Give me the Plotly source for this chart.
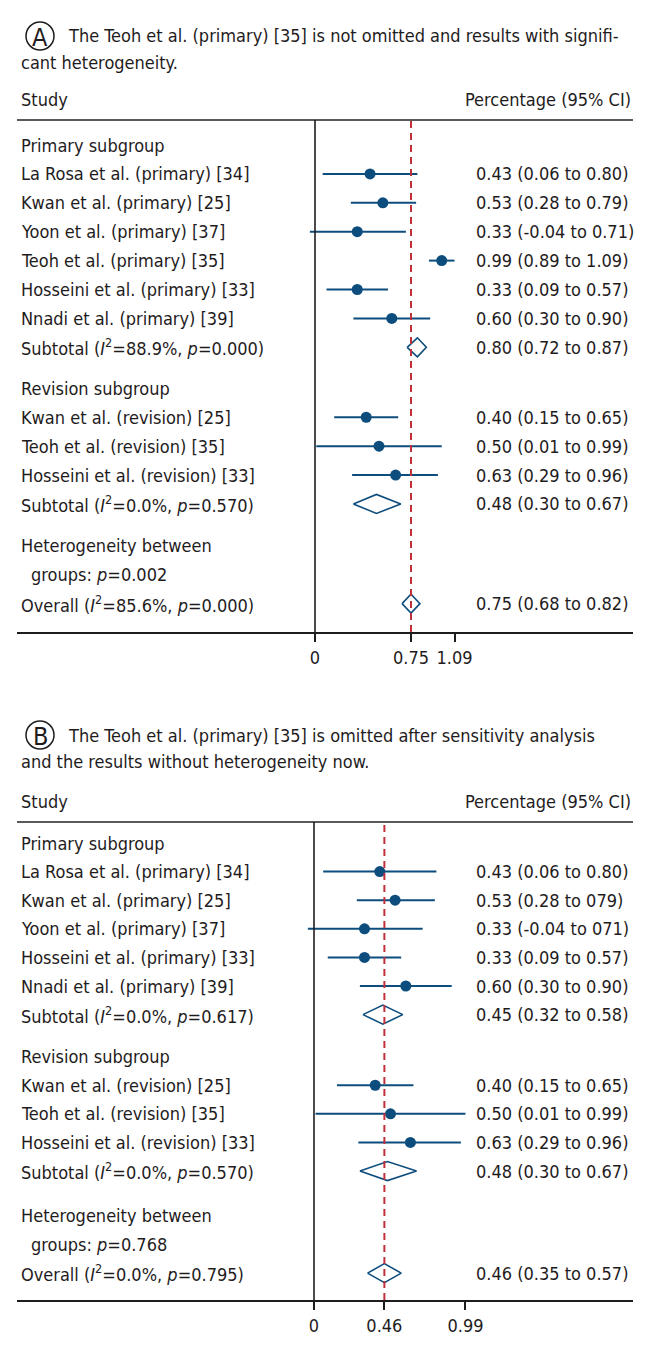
import plotly.graph_objects as go

W, H = 656, 1348
OFF = 8  # browser body margin around the figure
FW, FH = W - 2 * OFF, H - 2 * OFF
BLUE = "#0d4d7d"
RED = "#c0303a"
INK = "#1f1c1d"
FONT = "Liberation Sans Narrow, DejaVu Sans Condensed, Roboto, sans-serif"

# ---- panel A data ----
a_title1 = "The Teoh et al. (primary) [35] is not omitted and results with signifi-"
a_title2 = "cant heterogeneity."
a_studies = ["La Rosa et al. (primary) [34]", "Kwan et al. (primary) [25]",
             "Yoon et al. (primary) [37]", "Teoh et al. (primary) [35]",
             "Hosseini et al. (primary) [33]", "Nnadi et al. (primary) [39]"]
a_est = [0.43, 0.53, 0.33, 0.99, 0.33, 0.60]
a_lo = [0.06, 0.28, -0.04, 0.89, 0.09, 0.30]
a_hi = [0.80, 0.79, 0.71, 1.09, 0.57, 0.90]
a_ci = ["0.43 (0.06 to 0.80)", "0.53 (0.28 to 0.79)", "0.33 (-0.04 to 0.71)",
        "0.99 (0.89 to 1.09)", "0.33 (0.09 to 0.57)", "0.60 (0.30 to 0.90)"]
a_sub1 = "Subtotal (<i>I</i><sup>2</sup>=88.9%, <i>p</i>=0.000)"
a_sub1_est, a_sub1_lo, a_sub1_hi = 0.80, 0.72, 0.87
a_sub1_ci = "0.80 (0.72 to 0.87)"
a_rev_studies = ["Kwan et al. (revision) [25]", "Teoh et al. (revision) [35]",
                 "Hosseini et al. (revision) [33]"]
a_rev_est = [0.40, 0.50, 0.63]
a_rev_lo = [0.15, 0.01, 0.29]
a_rev_hi = [0.65, 0.99, 0.96]
a_rev_ci = ["0.40 (0.15 to 0.65)", "0.50 (0.01 to 0.99)", "0.63 (0.29 to 0.96)"]
a_sub2 = "Subtotal (<i>I</i><sup>2</sup>=0.0%, <i>p</i>=0.570)"
a_sub2_est, a_sub2_lo, a_sub2_hi = 0.48, 0.30, 0.67
a_sub2_ci = "0.48 (0.30 to 0.67)"
a_het = "groups: <i>p</i>=0.002"
a_overall = "Overall (<i>I</i><sup>2</sup>=85.6%, <i>p</i>=0.000)"
a_ov_est, a_ov_lo, a_ov_hi = 0.75, 0.68, 0.82
a_ov_ci = "0.75 (0.68 to 0.82)"
a_ticks = [0, 0.75, 1.09]

# ---- panel B data ----
b_title1 = "The Teoh et al. (primary) [35] is omitted after sensitivity analysis"
b_title2 = "and the results without heterogeneity now."
b_studies = ["La Rosa et al. (primary) [34]", "Kwan et al. (primary) [25]",
             "Yoon et al. (primary) [37]", "Hosseini et al. (primary) [33]",
             "Nnadi et al. (primary) [39]"]
b_est = [0.43, 0.53, 0.33, 0.33, 0.60]
b_lo = [0.06, 0.28, -0.04, 0.09, 0.30]
b_hi = [0.80, 0.79, 0.71, 0.57, 0.90]
b_ci = ["0.43 (0.06 to 0.80)", "0.53 (0.28 to 079)", "0.33 (-0.04 to 071)",
        "0.33 (0.09 to 0.57)", "0.60 (0.30 to 0.90)"]
b_sub1 = "Subtotal (<i>I</i><sup>2</sup>=0.0%, <i>p</i>=0.617)"
b_sub1_est, b_sub1_lo, b_sub1_hi = 0.45, 0.32, 0.58
b_sub1_ci = "0.45 (0.32 to 0.58)"
b_rev_studies = a_rev_studies
b_rev_est = [0.40, 0.50, 0.63]
b_rev_lo = [0.15, 0.01, 0.29]
b_rev_hi = [0.65, 0.99, 0.96]
b_rev_ci = ["0.40 (0.15 to 0.65)", "0.50 (0.01 to 0.99)", "0.63 (0.29 to 0.96)"]
b_sub2 = "Subtotal (<i>I</i><sup>2</sup>=0.0%, <i>p</i>=0.570)"
b_sub2_est, b_sub2_lo, b_sub2_hi = 0.48, 0.30, 0.67
b_sub2_ci = "0.48 (0.30 to 0.67)"
b_het = "groups: <i>p</i>=0.768"
b_overall = "Overall (<i>I</i><sup>2</sup>=0.0%, <i>p</i>=0.795)"
b_ov_est, b_ov_lo, b_ov_hi = 0.46, 0.35, 0.57
b_ov_ci = "0.46 (0.35 to 0.57)"
b_ticks = [0, 0.46, 0.99]


def px(x):
    return (x - OFF) / FW


def py(y):
    return 1 - (y - OFF) / FH


fig = go.Figure()
annotations = []
shapes = []


def text(x, y, s, size=18, xanchor="left", xref="paper", yref="paper", xshift=0):
    annotations.append(dict(x=x, y=y, text=s, xref=xref, yref=yref, showarrow=False,
                            xanchor=xanchor, yanchor="middle", xshift=xshift,
                            font=dict(size=size, color=INK, family=FONT)))


def panel(n, letter, t1, t2, top_px, line_px, axis_px, first_off, pitch, gap1, gap2,
          x_px0, ppu,
          studies, est, lo, hi, ci, sub1, s1, s1ci,
          rstudies, rest, rlo, rhi, rci, sub2, s2, s2ci,
          het, overall, ov, ovci, ticks):
    xa = "x" if n == 1 else "x2"
    ya = "y" if n == 1 else "y2"
    k = len(studies)
    r_head1 = 0
    r_st = [i + 1 for i in range(k)]
    r_sub1 = k + 1
    r_head2 = r_sub1 + gap1
    r_rst = [r_head2 + 1 + i for i in range(len(rstudies))]
    r_sub2 = r_rst[-1] + 1
    r_het1 = r_sub2 + gap2
    r_het2 = r_het1 + 1
    r_ov = r_het2 + 1
    first_row_px = line_px + first_off
    y_top = (line_px - first_row_px) / pitch
    y_bot = (axis_px - first_row_px) / pitch

    # header
    shapes.append(dict(type="circle", xref="paper", yref="paper",
                       x0=px(26), x1=px(54), y0=py(top_px + 14), y1=py(top_px - 14),
                       line=dict(color=INK, width=1.5)))
    text(px(40), py(top_px + 1), letter, size=25, xanchor="center")
    text(px(66), py(top_px), t1)
    text(px(19), py(top_px + 27), t2)
    text(px(19), py(line_px - 21), "Study")
    text(px(633), py(line_px - 21), "Percentage (95% CI)", xanchor="right")
    shapes.append(dict(type="line", xref="paper", yref="paper", x0=px(17), x1=px(633),
                       y0=py(line_px), y1=py(line_px), line=dict(color="#58595b", width=2)))

    # zero line and pooled-estimate line
    shapes.append(dict(type="line", xref=xa, yref=ya + " domain", x0=0, x1=0, y0=0, y1=1,
                       line=dict(color=INK, width=1.6)))
    shapes.append(dict(type="line", xref=xa, yref=ya + " domain", x0=ov[0], x1=ov[0],
                       y0=0, y1=1, line=dict(color=RED, width=2, dash="7px,5px")))

    # studies
    all_est = est + rest
    all_lo = lo + rlo
    all_hi = hi + rhi
    all_rows = r_st + r_rst
    fig.add_trace(go.Scatter(
        x=all_est, y=all_rows, mode="markers", xaxis=xa, yaxis=ya,
        marker=dict(size=11, color=BLUE),
        error_x=dict(type="data", symmetric=False,
                     array=[h - e for h, e in zip(all_hi, all_est)],
                     arrayminus=[e - l for e, l in zip(all_est, all_lo)],
                     width=0, thickness=2, color=BLUE),
        showlegend=False, hoverinfo="skip"))

    # pooled diamonds
    hh = 9.5 / pitch
    for (e, l, h), r in ((s1, r_sub1), (s2, r_sub2), (ov, r_ov)):
        fig.add_trace(go.Scatter(
            x=[l, e, h, e, l], y=[r, r - hh, r, r + hh, r], mode="lines",
            fill="toself", fillcolor="white", xaxis=xa, yaxis=ya,
            line=dict(color=BLUE, width=1.6), showlegend=False, hoverinfo="skip"))

    # labels
    lx = px(19)
    cx = px(474)
    text(lx, r_head1, "Primary subgroup", yref=ya)
    for s, r, c in zip(studies, r_st, ci):
        text(lx, r, s, yref=ya)
        text(cx, r, c, yref=ya)
    text(lx, r_sub1, sub1, yref=ya)
    text(cx, r_sub1, s1ci, yref=ya)
    text(lx, r_head2, "Revision subgroup", yref=ya)
    for s, r, c in zip(rstudies, r_rst, rci):
        text(lx, r, s, yref=ya)
        text(cx, r, c, yref=ya)
    text(lx, r_sub2, sub2, yref=ya)
    text(cx, r_sub2, s2ci, yref=ya)
    text(lx, r_het1, "Heterogeneity between", yref=ya)
    text(lx, r_het2, het, yref=ya, xshift=10)
    text(lx, r_ov, overall, yref=ya)
    text(cx, r_ov, ovci, yref=ya)

    left = -(x_px0 - 17) / ppu
    right = left + (633 - 17) / ppu
    xax = dict(domain=[px(17), px(633)], range=[left, right], anchor=ya,
               showline=True, linecolor=INK, linewidth=2, showgrid=False,
               zeroline=False, ticks="outside", ticklen=8, tickwidth=2,
               tickcolor=INK, tickvals=ticks, ticktext=[str(t) for t in ticks],
               tickfont=dict(size=18, color=INK, family=FONT), fixedrange=True)
    yax = dict(domain=[py(axis_px), py(line_px)], range=[y_bot, y_top], anchor=xa,
               visible=False, fixedrange=True)
    return xax, yax


xa1, ya1 = panel(1, "A", a_title1, a_title2, 36, 120, 632, 25, 28.9, 1.42, 1.45, 315, 128,
                 a_studies, a_est, a_lo, a_hi, a_ci, a_sub1,
                 (a_sub1_est, a_sub1_lo, a_sub1_hi), a_sub1_ci,
                 a_rev_studies, a_rev_est, a_rev_lo, a_rev_hi, a_rev_ci, a_sub2,
                 (a_sub2_est, a_sub2_lo, a_sub2_hi), a_sub2_ci,
                 a_het, a_overall, (a_ov_est, a_ov_lo, a_ov_hi), a_ov_ci, a_ticks)
xa2, ya2 = panel(2, "B", b_title1, b_title2, 735, 822, 1300, 21, 28.6, 1.47, 1.57, 314, 153,
                 b_studies, b_est, b_lo, b_hi, b_ci, b_sub1,
                 (b_sub1_est, b_sub1_lo, b_sub1_hi), b_sub1_ci,
                 b_rev_studies, b_rev_est, b_rev_lo, b_rev_hi, b_rev_ci, b_sub2,
                 (b_sub2_est, b_sub2_lo, b_sub2_hi), b_sub2_ci,
                 b_het, b_overall, (b_ov_est, b_ov_lo, b_ov_hi), b_ov_ci, b_ticks)

fig.update_layout(
    width=FW, height=FH, margin=dict(l=0, r=0, t=0, b=0),
    paper_bgcolor="white", plot_bgcolor="white",
    xaxis=xa1, yaxis=ya1, xaxis2=xa2, yaxis2=ya2,
    annotations=annotations, shapes=shapes, showlegend=False,
    font=dict(family=FONT, color=INK),
)

fig.write_html("out.html")
